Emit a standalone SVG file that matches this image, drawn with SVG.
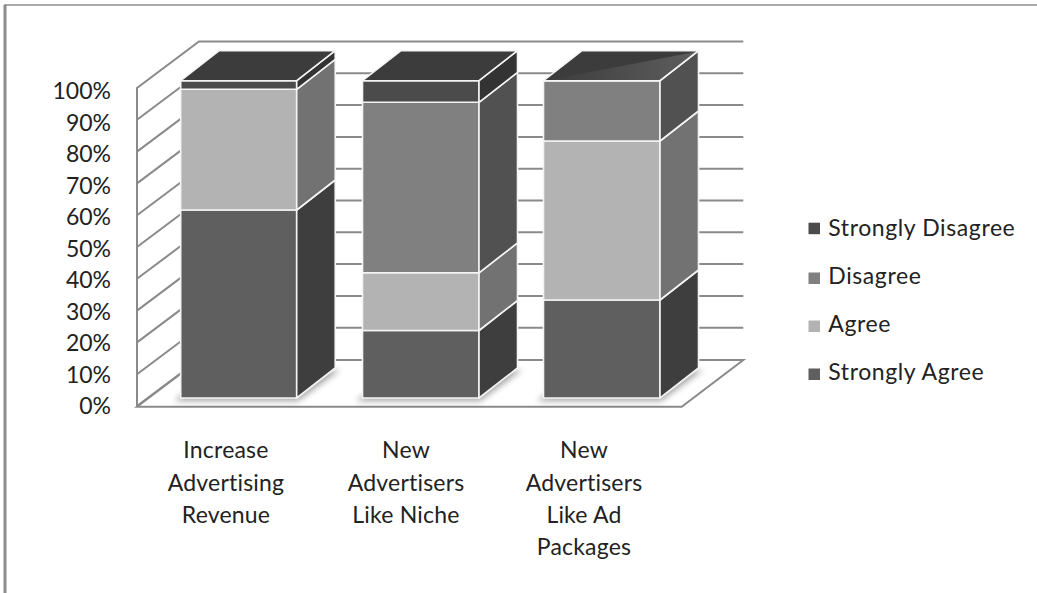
<svg xmlns="http://www.w3.org/2000/svg" width="1037" height="593" viewBox="0 0 1037 593">
  <style>
    .frame { stroke: #8c8c8c; fill: none; }
    .grid { stroke: #8a8a8a; stroke-width: 2; fill: none; }
    .wall { fill: #ffffff; stroke: #8a8a8a; stroke-width: 2; }
    .face { stroke: #f4f4f4; stroke-width: 1.6; stroke-linejoin: round; }
    .sa-f { fill: #5f5f5f; } .sa-s { fill: #3e3e3e; }
    .ag-f { fill: #b3b3b3; } .ag-s { fill: #727272; }
    .di-f { fill: #808080; } .di-s { fill: #515151; }
    .sd-f { fill: #4b4b4b; } .sd-s { fill: #333333; } .sd-t { fill: #3c3c3c; }
    text { font-family: Lato, "Liberation Sans", sans-serif; font-size: 23px; fill: #222222; }
    .ax { text-anchor: end; }
    .cat { text-anchor: middle; letter-spacing: 0.2px; }
    .leg { letter-spacing: 0.6px; }
  </style>
  <defs>
    <filter id="soft" x="-20%" y="-50%" width="140%" height="200%">
      <feGaussianBlur stdDeviation="3"/>
    </filter>
    <linearGradient id="sheen" x1="0" y1="0" x2="1" y2="0">
      <stop offset="0" stop-color="#3c3c3c"/>
      <stop offset="1" stop-color="#5e5e5e"/>
    </linearGradient>
  </defs>

  <rect width="1037" height="593" fill="#ffffff"/>
  <!-- outer chart frame -->
  <line class="frame" x1="4" y1="5" x2="1037" y2="5" stroke-width="1.6"/>
  <line class="frame" x1="5" y1="5" x2="5" y2="593" stroke-width="3"/>

  <!-- walls and floor -->
  <g id="walls">
    <polygon class="wall" points="137,406.7 199,360 743.3,360 681.7,406.7"/>
    <polyline class="grid" points="137,406.7 137,88 199,41.5 743.3,41.5"/>
    <!-- back wall gridlines -->
    <path class="grid" d="M199,73.3H743.3M199,105.1H743.3M199,136.9H743.3M199,168.7H743.3M199,200.5H743.3M199,232.3H743.3M199,264.1H743.3M199,295.9H743.3M199,327.7H743.3"/>
    <!-- side wall gridlines -->
    <path class="grid" d="M137,119.8L199,73.3M137,151.6L199,105.1M137,183.4L199,136.9M137,215.2L199,168.7M137,247L199,200.5M137,278.8L199,232.3M137,310.6L199,264.1M137,342.4L199,295.9M137,374.2L199,327.7M137,406L199,359.5"/>
  </g>

  <!-- shadows under bars -->
  <g id="shadows" filter="url(#soft)" fill="#000000" opacity="0.35">
    <polygon points="174,401 298,401 340,370 216,370"/>
    <polygon points="356,401 480,401 522,370 398,370"/>
    <polygon points="537,401 661,401 703,370 579,370"/>
  </g>

  <!-- y axis labels -->
  <g id="y-axis">
    <text class="ax" x="111" y="99.3">100%</text>
    <text class="ax" x="111" y="130.8">90%</text>
    <text class="ax" x="111" y="162.2">80%</text>
    <text class="ax" x="111" y="193.7">70%</text>
    <text class="ax" x="111" y="225.2">60%</text>
    <text class="ax" x="111" y="256.7">50%</text>
    <text class="ax" x="111" y="288.1">40%</text>
    <text class="ax" x="111" y="319.6">30%</text>
    <text class="ax" x="111" y="351.1">20%</text>
    <text class="ax" x="111" y="382.5">10%</text>
    <text class="ax" x="111" y="414">0%</text>
  </g>

  <!-- bar 1: Increase Advertising Revenue -->
  <g id="bar-1">
    <rect class="face sa-f" x="180.7" y="210" width="116" height="188"/>
    <polygon class="face sa-s" points="296.7,210 335.2,180 335.2,368 296.7,398"/>
    <rect class="face ag-f" x="180.7" y="89.3" width="116" height="120.7"/>
    <polygon class="face ag-s" points="296.7,89.3 335.2,59.3 335.2,180 296.7,210"/>
    <rect class="face sd-f" x="180.7" y="80.7" width="116" height="8.6"/>
    <polygon class="face sd-s" points="296.7,80.7 335.2,50.7 335.2,59.3 296.7,89.3"/>
    <polygon class="face sd-t" points="180.7,80.7 219.2,50.7 335.2,50.7 296.7,80.7"/>
  </g>

  <!-- bar 2: New Advertisers Like Niche -->
  <g id="bar-2">
    <rect class="face sa-f" x="362.5" y="330.5" width="116.5" height="67.5"/>
    <polygon class="face sa-s" points="479,330.5 517.5,300.5 517.5,368 479,398"/>
    <rect class="face ag-f" x="362.5" y="272.8" width="116.5" height="57.7"/>
    <polygon class="face ag-s" points="479,272.8 517.5,242.8 517.5,300.5 479,330.5"/>
    <rect class="face di-f" x="362.5" y="102.3" width="116.5" height="170.5"/>
    <polygon class="face di-s" points="479,102.3 517.5,72.3 517.5,242.8 479,272.8"/>
    <rect class="face sd-f" x="362.5" y="80.7" width="116.5" height="21.6"/>
    <polygon class="face sd-s" points="479,80.7 517.5,50.7 517.5,72.3 479,102.3"/>
    <polygon class="face sd-t" points="362.5,80.7 401,50.7 517.5,50.7 479,80.7"/>
  </g>

  <!-- bar 3: New Advertisers Like Ad Packages -->
  <g id="bar-3">
    <rect class="face sa-f" x="543.5" y="300" width="116.5" height="98"/>
    <polygon class="face sa-s" points="660,300 698.5,270 698.5,368 660,398"/>
    <rect class="face ag-f" x="543.5" y="141" width="116.5" height="159"/>
    <polygon class="face ag-s" points="660,141 698.5,111 698.5,270 660,300"/>
    <rect class="face di-f" x="543.5" y="80.7" width="116.5" height="60.3"/>
    <polygon class="face di-s" points="660,80.7 698.5,50.7 698.5,111 660,141"/>
    <polygon class="face sd-t" points="543.5,80.7 582,50.7 698.5,50.7 660,80.7"/>
    <polygon fill="url(#sheen)" points="548,80 698,51.5 660,80"/>
    <polyline fill="none" stroke="#f4f4f4" stroke-width="1.6" points="543.5,80.7 660,80.7 698.5,50.7"/>
  </g>

  <!-- category labels -->
  <g id="categories">
    <text class="cat" x="226" y="458.3">Increase</text>
    <text class="cat" x="226" y="490.6">Advertising</text>
    <text class="cat" x="226" y="522.8">Revenue</text>
    <text class="cat" x="406" y="458.3">New</text>
    <text class="cat" x="406" y="490.6">Advertisers</text>
    <text class="cat" x="406" y="522.8">Like Niche</text>
    <text class="cat" x="584" y="458.3">New</text>
    <text class="cat" x="584" y="490.6">Advertisers</text>
    <text class="cat" x="584" y="522.8">Like Ad</text>
    <text class="cat" x="584" y="555">Packages</text>
  </g>

  <!-- legend -->
  <g id="legend">
    <rect x="808.5" y="222.7" width="11.5" height="11.5" fill="#4b4b4b"/>
    <text class="leg" x="828.3" y="235.7">Strongly Disagree</text>
    <rect x="808.5" y="272.5" width="11.5" height="11.5" fill="#808080"/>
    <text class="leg" x="828.3" y="284">Disagree</text>
    <rect x="808.5" y="320.5" width="11.5" height="11.5" fill="#b3b3b3"/>
    <text class="leg" x="828.3" y="332">Agree</text>
    <rect x="808.5" y="368.5" width="11.5" height="11.5" fill="#5f5f5f"/>
    <text class="leg" x="828.3" y="380">Strongly Agree</text>
  </g>
</svg>
